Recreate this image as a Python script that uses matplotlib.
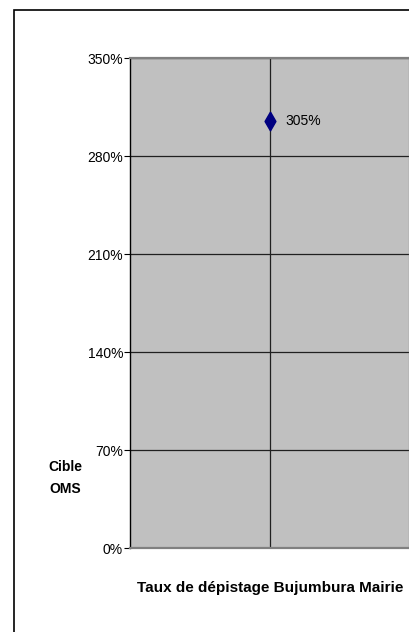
import numpy as np
from matplotlib import pyplot as plt
from matplotlib.patches import Rectangle

# data
categories = ['Taux de dépistage Bujumbura Mairie']
values = [305]
y_ticks = [0, 70, 140, 210, 280, 350]
y_label = 'Cible\nOMS'

W, H = 409, 632
fig = plt.figure(figsize=(W / 100, H / 100), dpi=100)
plt.rcParams['font.family'] = ['Liberation Sans', 'DejaVu Sans']

# outer chart border (cropped at the right and bottom)
fig.patches.append(Rectangle((14 / W, -0.1), 1.2, 1 - 10 / H + 0.1, transform=fig.transFigure,
                             fill=False, edgecolor='black', linewidth=1.2))

left, right, top, bottom = 130, 410, 58, 548
ax = fig.add_axes([left / W, 1 - bottom / H, (right - left) / W, (bottom - top) / H])
ax.set_facecolor('#c0c0c0')

# tall, narrow diamond like the Excel marker
diamond = [(0, 1), (0.58, 0), (0, -1), (-0.58, 0), (0, 1)]
x = np.arange(len(categories))
ax.plot(x, values, linestyle='none', marker=diamond, markersize=13.5, color='#000080')
for xi, v in zip(x, values):
    ax.annotate(f'{v}%', (xi, v), xytext=(11, 0), textcoords='offset points',
                va='center', ha='left', fontsize=10)

ax.set_xlim(-0.5, len(categories) - 0.5)
ax.set_ylim(0, 350)
ax.set_yticks(y_ticks)
ax.set_yticklabels([f'{t}%' for t in y_ticks], fontsize=10)
ax.set_xticks(x)
ax.set_xticklabels([''] * len(categories))
ax.tick_params(axis='x', length=0)
ax.tick_params(axis='y', length=4, width=0.8, pad=1)

ax.grid(True, color='#202020', linewidth=0.9)
ax.set_axisbelow(True)

for s in ['top', 'bottom', 'right']:
    ax.spines[s].set_color('#808080')
    ax.spines[s].set_linewidth(1.6)
ax.spines['left'].set_color('black')
ax.spines['left'].set_linewidth(1.0)

ax.set_xlabel(categories[0], fontsize=11, fontweight='bold', labelpad=20)
fig.text(65 / W, 1 - 478 / H, y_label, ha='center', va='center', fontsize=10,
         fontweight='bold', linespacing=1.8)

fig.savefig('out.png', dpi=100)
